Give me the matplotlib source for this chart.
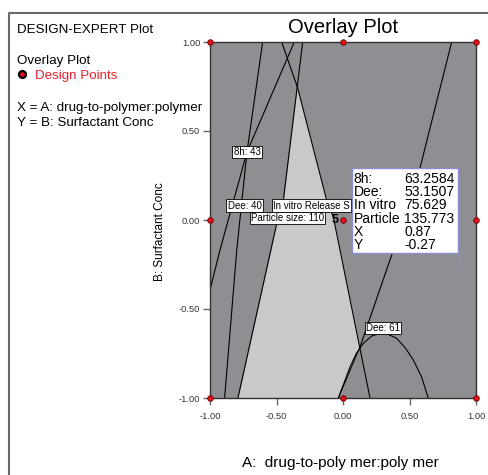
import numpy as np
import matplotlib
matplotlib.use("Agg")
import matplotlib.pyplot as plt
from matplotlib.lines import Line2D
from matplotlib.patches import Rectangle

plt.rcParams['font.family'] = ['Liberation Sans', 'DejaVu Sans']

W, H = 489, 475

# contour lines, read as (x, y) in coded units
p_x = [-0.604, -0.722, -0.799, -0.890]
p_y = [1.0, 0.382, -0.169, -1.0]
q_x = [-0.366, -0.722, -0.925, -1.0]
q_y = [1.0, 0.382, -0.169, -0.393]
l_x = [-0.303, -0.453, -0.498, -0.790]
l_y = [1.0, 0.084, -0.019, -1.0]
r_x = [-0.461, -0.341, -0.123, -0.073, 0.203]
r_y = [1.0, 0.742, 0.112, 0.017, -1.0]
s_x = [-0.035, 0.128, 0.366, 0.579, 0.817]
s_y = [-1.0, -0.713, -0.197, 0.292, 1.0]
dee61_x = [-0.035, 0.053, 0.10, 0.153, 0.215, 0.278, 0.34, 0.404, 0.47, 0.529, 0.59, 0.641]
dee61_y = [-1.0, -0.825, -0.75, -0.693, -0.652, -0.637, -0.643, -0.665, -0.72, -0.787, -0.88, -1.0]

# design points
pts_x = [-1, -1, -1, 0, 0, 0, 1, 1, 1]
pts_y = [-1, 0, 1, -1, 0, 1, -1, 0, 1]

ticks = [-1.0, -0.5, 0.0, 0.5, 1.0]
tick_labels = ["-1.00", "-0.50", "0.00", "0.50", "1.00"]

# contour labels: text, x, y
contour_labels = [
    ("8h: 43", -0.722, 0.382),
    ("Dee: 40", -0.741, 0.081),
    ("Particle size: 110", -0.417, 0.011),
    ("Dee: 61", 0.301, -0.607),
]

# point prediction box
pred_names = ["8h:", "Dee:", "In vitro", "Particle", "X", "Y"]
pred_values = ["63.2584", "53.1507", "75.629", "135.773", "0.87", "-0.27"]
pred_x, pred_y = 0.87, -0.27

DARK = '#8e8f93'
LIGHT = '#c8c9cb'


def px(x, y):
    return x / W, 1 - y / H


def at_y(yy, xs, ys):
    order = np.argsort(ys)
    return np.interp(yy, np.asarray(ys)[order], np.asarray(xs)[order])


fig = plt.figure(figsize=(W / 100, H / 100), dpi=100)
ax = fig.add_axes([210 / W, 1 - 398 / H, 266 / W, 356 / H])
ax.set_xlim(-1, 1)
ax.set_ylim(-1, 1)
ax.set_facecolor(DARK)

# feasible window
yy = np.linspace(-1, 1, 600)
left = at_y(yy, l_x, l_y)
right = np.minimum(at_y(yy, r_x, r_y), at_y(yy, s_x, s_y))
ax.fill_betweenx(yy, left, right, where=left < right, color=LIGHT, lw=0, zorder=1)

for xs, ys in [(p_x, p_y), (q_x, q_y), (l_x, l_y), (r_x, r_y), (s_x, s_y), (dee61_x, dee61_y)]:
    ax.plot(xs, ys, color='black', lw=0.8, zorder=2)

for text, x, y in contour_labels:
    ax.text(x, y, text, fontsize=7, ha='center', va='center', zorder=4,
            bbox=dict(boxstyle='square,pad=0.12', fc='white', ec='black', lw=0.6))
ax.text(-0.526, 0.081, "In vitro Release S", fontsize=7, ha='left', va='center', zorder=4,
        bbox=dict(boxstyle='square,pad=0.12', fc='white', ec='black', lw=0.6))

ax.plot(pts_x, pts_y, ls='none', marker='o', ms=4, mfc='#e4101a', mec='#6a0000',
        mew=0.6, zorder=6, clip_on=False)
ax.text(-0.03, 0.0, "5", fontsize=9, fontweight='bold', ha='right', va='center', zorder=5)

# prediction box
bx0, bx1, by0, by1 = 0.065, 0.867, -0.184, 0.290
ax.add_patch(Rectangle((bx0, by0), bx1 - bx0, by1 - by0, fc='white', ec='#8c8cd0',
                       lw=1.0, zorder=7))
ax.plot([pred_x, pred_x], [by0, pred_y], color='#8c8cd0', lw=1.0, zorder=7)
row_h = 13.3 / 178
for i, (name, val) in enumerate(zip(pred_names, pred_values)):
    ry = by1 - 0.058 - i * row_h
    ax.text(0.079, ry, name, fontsize=10, ha='left', va='center', zorder=8)
    ax.text(0.462, ry, val, fontsize=10, ha='left', va='center', zorder=8)

ax.set_xticks(ticks)
ax.set_xticklabels(tick_labels)
ax.set_yticks(ticks)
ax.set_yticklabels(tick_labels)
ax.tick_params(direction='out', length=5, width=1, color='#666666',
               labelsize=6.7, labelcolor='#333333', pad=2)
ax.tick_params(axis='x', pad=5)
for sp in ax.spines.values():
    sp.set_color('#303030')
    sp.set_linewidth(1)

# titles and side text
fig.text(*px(343, 33), "Overlay Plot", fontsize=14.5, ha='center', va='baseline')
fig.text(*px(17, 33), "DESIGN-EXPERT Plot", fontsize=9.6, ha='left', va='baseline')
fig.text(*px(17, 64), "Overlay Plot", fontsize=9.6, ha='left', va='baseline')
fig.text(*px(35, 79), "Design Points", fontsize=9.6, color='#e8202a', ha='left', va='baseline')
fig.add_artist(Line2D([22 / W], [1 - 74 / H], transform=fig.transFigure, marker='o', ms=5,
                      mfc='#e4101a', mec='black', mew=1.6))
fig.text(*px(17, 111), "X = A: drug-to-polymer:polymer", fontsize=9.6, ha='left', va='baseline')
fig.text(*px(17, 126), "Y = B: Surfactant Conc", fontsize=9.6, ha='left', va='baseline')

fig.text(*px(160, 232), "B: Surfactant Conc", fontsize=8.5, rotation=90, ha='center', va='center')
fig.text(*px(340, 467), "A:  drug-to-poly mer:poly mer", fontsize=11, ha='center', va='baseline')

# outer frame
fig.add_artist(Line2D([9 / W, 9 / W, 1.0], [0.0, 1 - 13 / H, 1 - 13 / H],
                      transform=fig.transFigure, color='#6a6a6a', lw=1.5))

fig.savefig("out.png", dpi=100)
